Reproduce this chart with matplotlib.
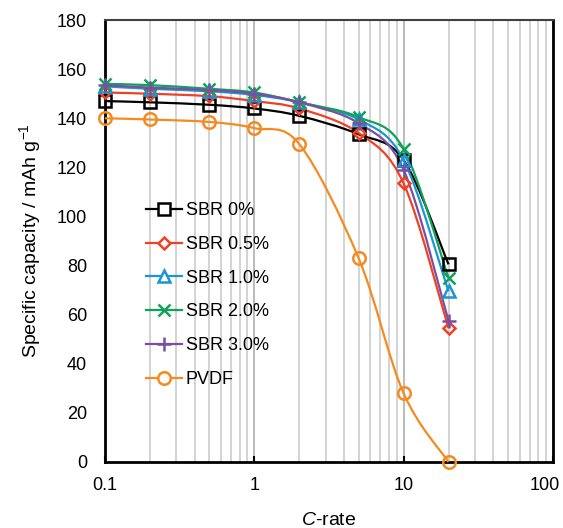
import numpy as np
import matplotlib
matplotlib.use("Agg")
import matplotlib.pyplot as plt
from matplotlib.path import Path
from matplotlib.patches import PathPatch
from matplotlib.lines import Line2D
from matplotlib.ticker import LogLocator, FuncFormatter
import matplotlib.transforms as mtransforms

plt.rcParams['font.family'] = ['Liberation Sans', 'DejaVu Sans']
plt.rcParams['mathtext.fontset'] = 'custom'
plt.rcParams['mathtext.rm'] = 'Liberation Sans'
plt.rcParams['mathtext.it'] = 'Liberation Sans:italic'

# Datos
c_rate = [0.1, 0.2, 0.5, 1, 2, 5, 10, 20]
sbr_0 = [147, 146.5, 145.5, 144, 141, 133.5, 123, 80.5]
sbr_05 = [150.5, 150, 149, 147, 144, 134, 113.5, 54.5]
sbr_10 = [153, 152, 151, 149.5, 146.5, 139.5, 123, 69.5]
sbr_20 = [154, 153.5, 152, 150.5, 146.5, 140.5, 127.5, 75]
sbr_30 = [153.5, 152.5, 151.5, 150, 146.5, 138, 119, 57.5]
pvdf = [140, 139.5, 138.5, 136, 129.5, 83, 28, 0]

series = [
    ('SBR 0%', sbr_0, '#000000', 's'),
    ('SBR 0.5%', sbr_05, '#ef4123', 'D'),
    ('SBR 1.0%', sbr_10, '#1b95d6', '^'),
    ('SBR 2.0%', sbr_20, '#0fa35a', 'x'),
    ('SBR 3.0%', sbr_30, '#7c4ea2', '+'),
    ('PVDF', pvdf, '#f68a1f', 'o'),
]
msize = {'s': 8, 'D': 6.5, '^': 8, 'x': 8, '+': 10, 'o': 9}


def smooth_path(x, y):
    # curva suavizada tipo Excel (Catmull-Rom -> Bezier) en espacio log-x
    lx = np.log10(x)
    y = np.asarray(y, float)
    n = len(lx)
    verts = [(x[0], y[0])]
    codes = [Path.MOVETO]
    for i in range(n - 1):
        i0 = max(i - 1, 0)
        i3 = min(i + 2, n - 1)
        c1 = (lx[i] + (lx[i + 1] - lx[i0]) / 6, y[i] + (y[i + 1] - y[i0]) / 6)
        c2 = (lx[i + 1] - (lx[i3] - lx[i]) / 6, y[i + 1] - (y[i3] - y[i]) / 6)
        verts += [(10 ** c1[0], c1[1]), (10 ** c2[0], c2[1]), (x[i + 1], y[i + 1])]
        codes += [Path.CURVE4] * 3
    return Path(verts, codes)


fig = plt.figure(figsize=(5.63, 5.28), dpi=100)
ax = fig.add_axes([0.1865, 0.125, 0.7955, 0.837])
ax.set_xscale('log')
ax.set_xlim(0.1, 100)
ax.set_ylim(0, 180)

handles = []
for label, vals, color, mk in series:
    ax.add_patch(PathPatch(smooth_path(c_rate, vals), fill=False, edgecolor=color,
                           lw=1.6, zorder=3, clip_on=False))
    ax.plot(c_rate, vals, ls='none', marker=mk, ms=msize[mk], mfc='none',
            mec=color, mew=1.8, zorder=4, clip_on=False)
    handles.append(Line2D([], [], color=color, lw=1.6, marker=mk, ms=msize[mk],
                          mfc='white', mec=color, mew=1.8))

ax.legend(handles, [s[0] for s in series], loc='upper left',
          bbox_to_anchor=(0.055, 0.625), frameon=False, fontsize=13,
          labelspacing=0.93, handlelength=2.0, handletextpad=0.2)

# rejilla vertical
ax.xaxis.set_minor_locator(LogLocator(base=10, subs=np.arange(2, 10)))
ax.grid(True, which='minor', axis='x', color='#c8c8c8', lw=1.1, zorder=0)
ax.grid(True, which='major', axis='x', color='#a8a8a8', lw=1.1, zorder=0)
ax.set_axisbelow(True)

ax.xaxis.set_major_formatter(FuncFormatter(lambda v, p: f'{v:g}'))
ax.set_yticks(range(0, 181, 20))
ax.tick_params(axis='x', which='major', direction='in', length=4, width=1.5,
               labelsize=13, pad=11)
ax.tick_params(axis='x', which='minor', length=0)
ax.tick_params(axis='y', length=0, labelsize=13, pad=13)

# la etiqueta "100" un poco hacia dentro
fig.canvas.draw()
lbls = ax.get_xticklabels()
for t in lbls:
    if t.get_text() == '100':
        t.set_transform(t.get_transform() + mtransforms.ScaledTranslation(-8 / 100, 0, fig.dpi_scale_trans))

for side in ['left', 'bottom', 'right']:
    ax.spines[side].set_linewidth(2)
    ax.spines[side].set_color('black')
ax.spines['top'].set_linewidth(1.5)
ax.spines['top'].set_color('#404040')

ax.set_xlabel('$\\mathit{C}$-rate', fontsize=14, labelpad=13)
ax.set_ylabel('Specific capacity / mAh g$^{-1}$', fontsize=14, labelpad=10)

fig.savefig('out.png', dpi=100)
